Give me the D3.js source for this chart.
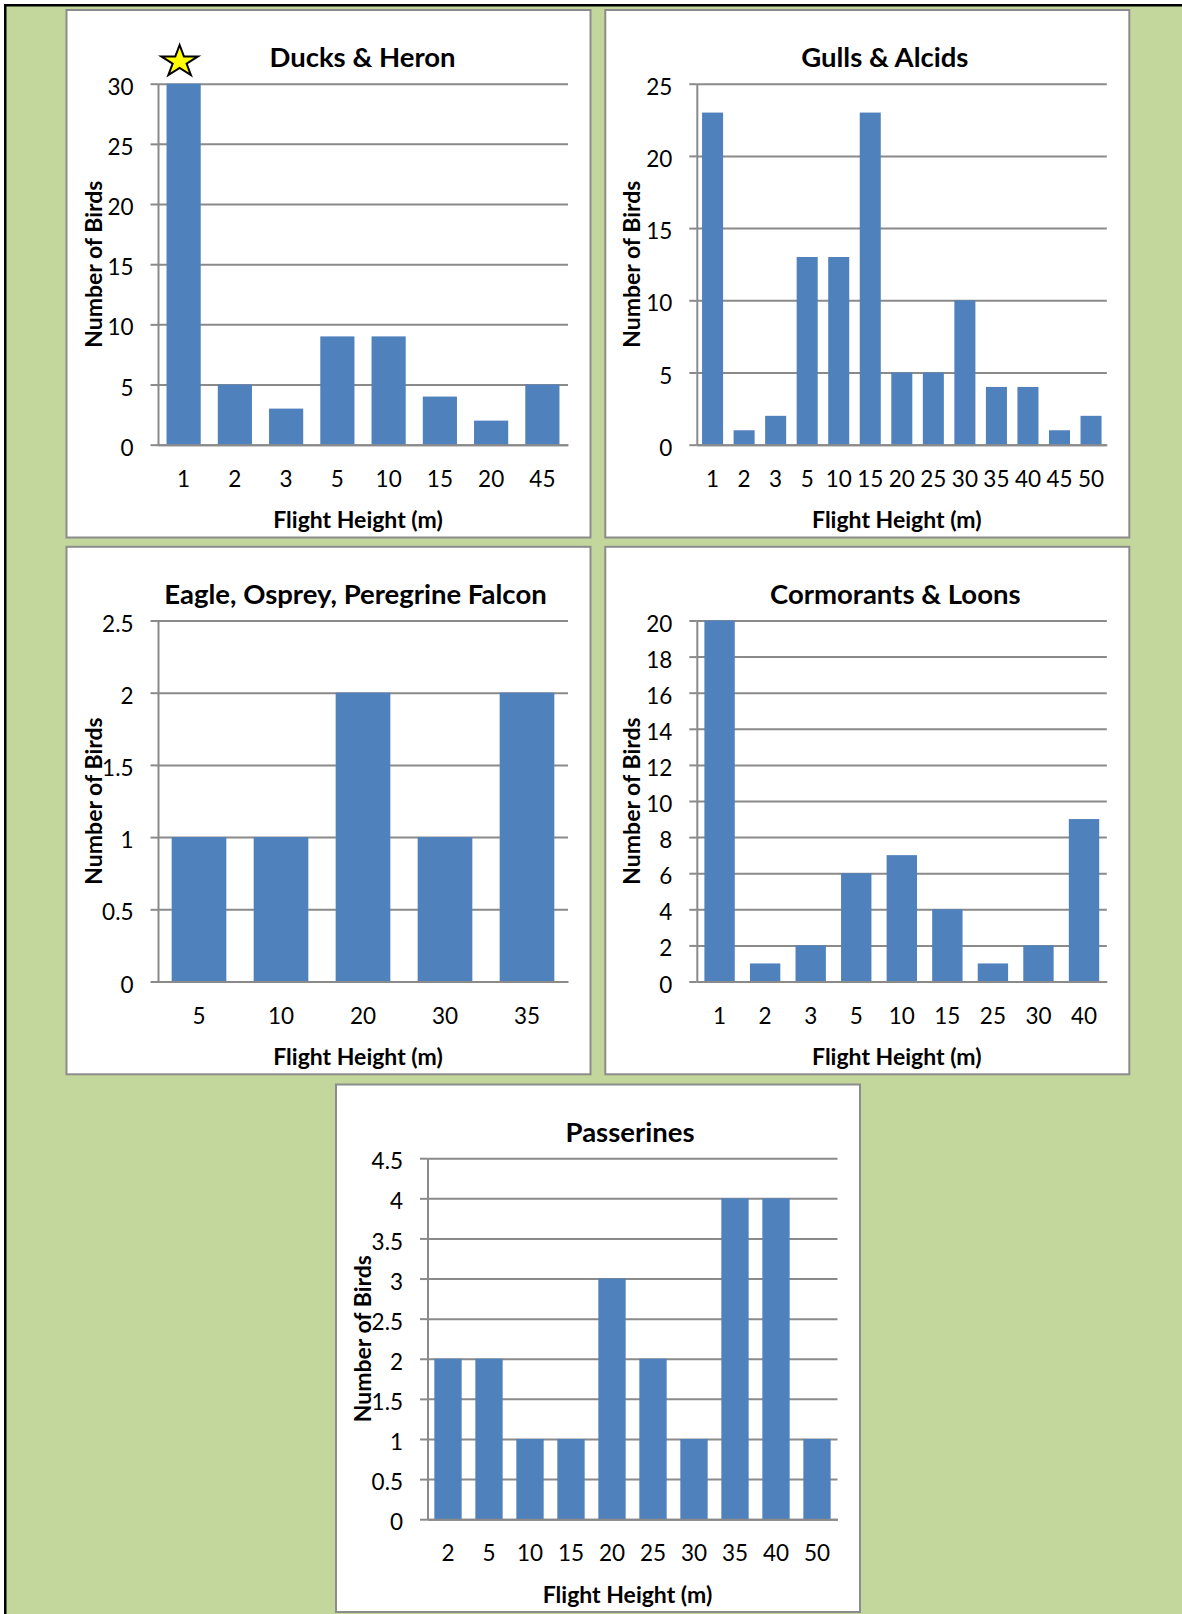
<!DOCTYPE html>
<html>
<head>
<meta charset="utf-8">
<script src="https://cdn.jsdelivr.net/npm/d3@7"></script>
<style>
  html, body { margin: 0; padding: 0; background: #fff; }
  svg { display: block; }
  text { font-family: Lato, "Open Sans", sans-serif; }
</style>
</head>
<body>
<script>
// ---------- DATA ----------
const duckCats = ["1", "2", "3", "5", "10", "15", "20", "45"];
const duckVals = [30, 5, 3, 9, 9, 4, 2, 5];
const duckTicks = [0, 5, 10, 15, 20, 25, 30];

const gullCats = ["1", "2", "3", "5", "10", "15", "20", "25", "30", "35", "40", "45", "50"];
const gullVals = [23, 1, 2, 13, 13, 23, 5, 5, 10, 4, 4, 1, 2];
const gullTicks = [0, 5, 10, 15, 20, 25];

const raptorCats = ["5", "10", "20", "30", "35"];
const raptorVals = [1, 1, 2, 1, 2];
const raptorTicks = [0, 0.5, 1, 1.5, 2, 2.5];

const cormCats = ["1", "2", "3", "5", "10", "15", "25", "30", "40"];
const cormVals = [20, 1, 2, 6, 7, 4, 1, 2, 9];
const cormTicks = [0, 2, 4, 6, 8, 10, 12, 14, 16, 18, 20];

const passCats = ["2", "5", "10", "15", "20", "25", "30", "35", "40", "50"];
const passVals = [2, 2, 1, 1, 3, 2, 1, 4, 4, 1];
const passTicks = [0, 0.5, 1, 1.5, 2, 2.5, 3, 3.5, 4, 4.5];

const titles = ["Ducks & Heron", "Gulls & Alcids", "Eagle, Osprey, Peregrine Falcon", "Cormorants & Loons", "Passerines"];
const yTitle = "Number of Birds";
const xTitle = "Flight Height (m)";

// ---------- LAYOUT ----------
const W = 1182, H = 1614;
const PW = 524, PH = 527.5;
const PX = 91.5, PY = 73.7, PLW = 410, PLH = 361;
const BAR = "#4F81BD", GRID = "#8a8a8a";

const svg = d3.select("body").append("svg").attr("width", W).attr("height", H);
svg.append("rect").attr("width", W).attr("height", H).attr("fill", "#fff");
svg.append("rect").attr("x", 4).attr("y", 4).attr("width", W - 4).attr("height", H - 4).attr("fill", "#C3D69B");
svg.append("rect").attr("x", 4).attr("y", 4).attr("width", 2.5).attr("height", H - 4).attr("fill", "#000");
svg.append("rect").attr("x", 4).attr("y", 4).attr("width", W - 4).attr("height", 2.5).attr("fill", "#000");

function drawPanel(cfg) {
  const g = svg.append("g").attr("transform", `translate(${cfg.x},${cfg.y})`);
  g.append("rect").attr("width", PW).attr("height", PH)
    .attr("fill", "#fff").attr("stroke", "#8c8c8c").attr("stroke-width", 2);

  const plot = g.append("g").attr("transform", `translate(${PX},${PY})`);
  const x = d3.scaleBand().domain(cfg.cats).range([0, PLW]).paddingInner(1 / 3).paddingOuter(1 / 6);
  const y = d3.scaleLinear().domain([0, d3.max(cfg.ticks)]).range([PLH, 0]);

  // gridlines
  plot.append("g")
    .call(d3.axisLeft(y).tickValues(cfg.ticks).tickSize(-PLW).tickFormat(""))
    .call(s => s.select(".domain").remove())
    .selectAll("line").attr("stroke", GRID).attr("stroke-width", 2);

  // bars
  plot.selectAll("rect.bar").data(cfg.vals).join("rect").attr("class", "bar")
    .attr("x", (d, i) => x(cfg.cats[i]))
    .attr("y", d => y(d))
    .attr("width", x.bandwidth())
    .attr("height", d => PLH - y(d))
    .attr("fill", BAR);

  // y axis
  const ya = plot.append("g")
    .call(d3.axisLeft(y).tickValues(cfg.ticks).tickSize(7.5).tickSizeOuter(0).tickPadding(17).tickFormat(d => String(d)));
  ya.select(".domain").attr("stroke", GRID).attr("stroke-width", 2);
  ya.selectAll("line").attr("stroke", GRID).attr("stroke-width", 2);
  ya.selectAll("text").attr("font-size", 22.5).attr("fill", "#000").attr("dy", "0.47em")
    .style("font-family", "Lato, 'Open Sans', sans-serif");

  // x axis
  const xa = plot.append("g").attr("transform", `translate(0,${PLH})`)
    .call(d3.axisBottom(x).tickSize(0).tickSizeOuter(0).tickPadding(26.3));
  xa.select(".domain").attr("stroke", GRID).attr("stroke-width", 2);
  xa.selectAll("text").attr("font-size", 22.5).attr("fill", "#000")
    .style("font-family", "Lato, 'Open Sans', sans-serif");

  // titles
  g.append("text").attr("x", cfg.tdx).attr("y", 57).attr("text-anchor", "middle")
    .attr("font-size", 27.5).attr("font-weight", "bold").attr("fill", "#000").text(cfg.title);
  g.append("text").attr("transform", `translate(26,${PY + PLH / 2}) rotate(-90)`)
    .attr("text-anchor", "middle").attr("dominant-baseline", "central")
    .attr("font-size", 23).attr("font-weight", "bold").attr("fill", "#000").text(yTitle);
  g.append("text").attr("x", 291.5).attr("y", 518).attr("text-anchor", "middle")
    .attr("font-size", 23).attr("font-weight", "bold").attr("fill", "#000").text(xTitle);

  if (cfg.star) {
    const i = cfg.cats.indexOf(cfg.star);
    const cx = x(cfg.star) + x.bandwidth() / 2 - 4;
    const cy = y(cfg.vals[i]) - 22.1;
    const rx = 19.2, ry = 16.6, inner = 0.382;
    const pts = d3.range(10).map(k => {
      const a = -Math.PI / 2 + k * Math.PI / 5;
      const r = k % 2 === 0 ? 1 : inner;
      return [cx + rx * r * Math.cos(a), cy + ry * r * Math.sin(a)];
    });
    plot.append("polygon").attr("points", pts.map(p => p.join(",")).join(" "))
      .attr("fill", "#FFFF00").attr("stroke", "#000").attr("stroke-width", 2)
      .attr("stroke-linejoin", "miter");
  }
}

drawPanel({ x: 66.5, y: 10, cats: duckCats, vals: duckVals, ticks: duckTicks, title: titles[0], tdx: 296, star: "1" });
drawPanel({ x: 605.3, y: 10, cats: gullCats, vals: gullVals, ticks: gullTicks, title: titles[1], tdx: 279.5 });
drawPanel({ x: 66.5, y: 546.8, cats: raptorCats, vals: raptorVals, ticks: raptorTicks, title: titles[2], tdx: 289 });
drawPanel({ x: 605.3, y: 546.8, cats: cormCats, vals: cormVals, ticks: cormTicks, title: titles[3], tdx: 290 });
drawPanel({ x: 336, y: 1084.5, cats: passCats, vals: passVals, ticks: passTicks, title: titles[4], tdx: 294 });
</script>
</body>
</html>
